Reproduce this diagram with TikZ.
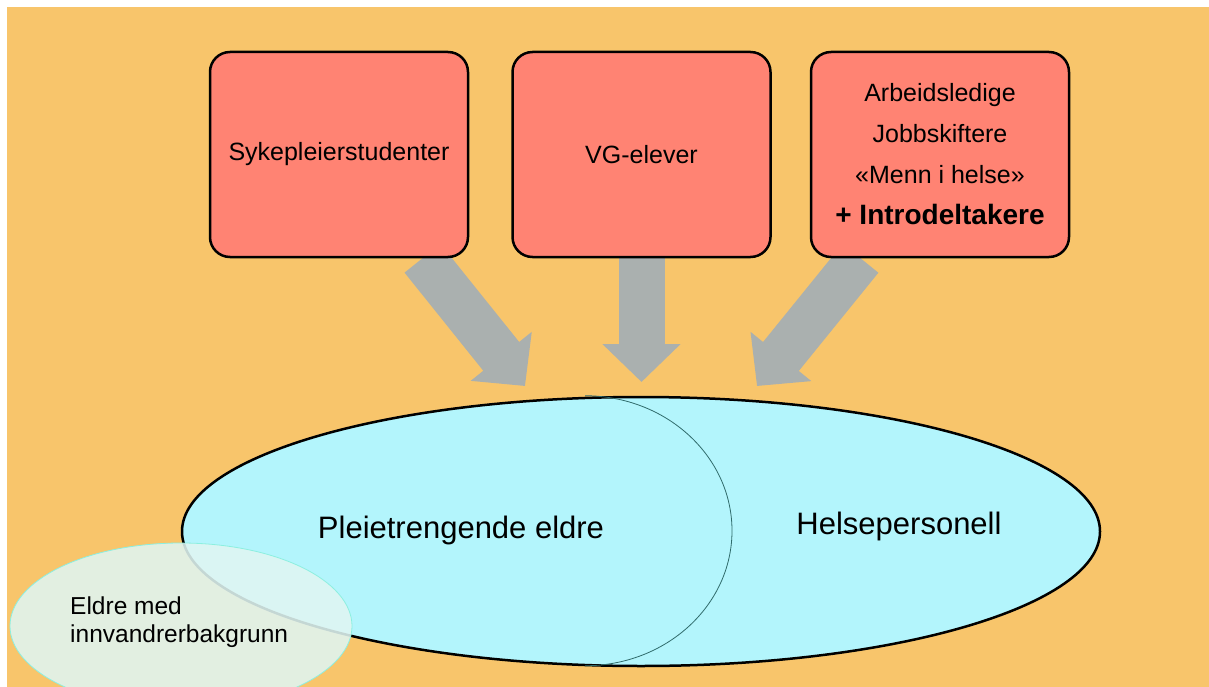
\documentclass[tikz,border=0pt]{standalone}
\usepackage{fontspec}
\setmainfont{Liberation Sans}
\usetikzlibrary{shapes.geometric,arrows.meta}

\definecolor{bgorange}{HTML}{F8C56B}
\definecolor{boxred}{HTML}{FF8373}
\definecolor{pilgrey}{HTML}{AAB0AF}
\definecolor{ellblue}{HTML}{B3F5FC}
\definecolor{buelinje}{HTML}{2F6B6B}
\definecolor{innvfill}{HTML}{E0F5F2}
\definecolor{innvkant}{HTML}{8CEFE0}

\pgfdeclarelayer{back}
\pgfsetlayers{back,main}

\tikzset{
  kilde/.style={draw=black,line width=2.5pt,fill=boxred,rounded corners=20pt,
    minimum width=258pt,minimum height=205pt,inner sep=0pt,align=center,
    font=\fontsize{25}{41}\selectfont},
  pil/.style={draw=pilgrey,line width=46pt,-{Triangle[width=76pt,length=38pt]}},
  stortekst/.style={font=\fontsize{31}{36}\selectfont},
}

\begin{document}
\begin{tikzpicture}[x=1pt,y=-1pt]
	%%%%% START %%%%%
	\def\W{1209}
	\def\H{687}
	\def\kant{7}

	\useasboundingbox (0,0) rectangle (\W,\H);
	\clip (0,0) rectangle (\W,\H);

	% kildene
	\node[kilde] (syk) at (339,154.5) {Sykepleierstudenter};
	\node[kilde] (vg) at (641.5,154.5) {VG-elever};
	\node[kilde] (arb) at (940,154.5) {Arbeidsledige\\Jobbskiftere\\«Menn i helse»\\{\fontsize{28}{41}\selectfont\bfseries + Introdeltakere}};

	% ellipsene
	\node[ellipse,draw=black,line width=2.5pt,fill=ellblue,inner sep=0pt,
		minimum width=918pt,minimum height=269pt] (eldre) at (641,531.5) {};
	\draw[buelinje,line width=0.8pt] ([xshift=-56pt]eldre.north) arc[start angle=-90,end angle=90,x radius=147,y radius=135];
	\node[stortekst] (pleie) at (461,530) {Pleietrengende eldre};
	\node[stortekst] (helse) at (899,526) {Helsepersonell};

	\node[ellipse,draw=innvkant,line width=0.8pt,fill=innvfill,fill opacity=0.88,inner sep=0pt,
		minimum width=342pt,minimum height=166pt] (innv) at (181,626) {};
	\node[anchor=west,align=left,inner sep=0pt,font=\fontsize{24.5}{28}\selectfont] (innvtekst) at (70,622) {Eldre med\\innvandrerbakgrunn};

	\coordinate (tippA) at (525,386);
	\coordinate (tippB) at (641.5,382);
	\coordinate (tippC) at (757,386);

	\begin{pgfonlayer}{back}
		\fill[white] (0,0) rectangle (\W,\H);
		\fill[bgorange] (\kant,\kant) rectangle (\W,\H);
		\draw[pil] ([xshift=83.5pt]syk.south) -- (tippA);
		\draw[pil] (vg.south) -- (tippB);
		\draw[pil] ([xshift=-79.5pt]arb.south) -- (tippC);
	\end{pgfonlayer}
	%%%%% END %%%%%
\end{tikzpicture}
\end{document}
